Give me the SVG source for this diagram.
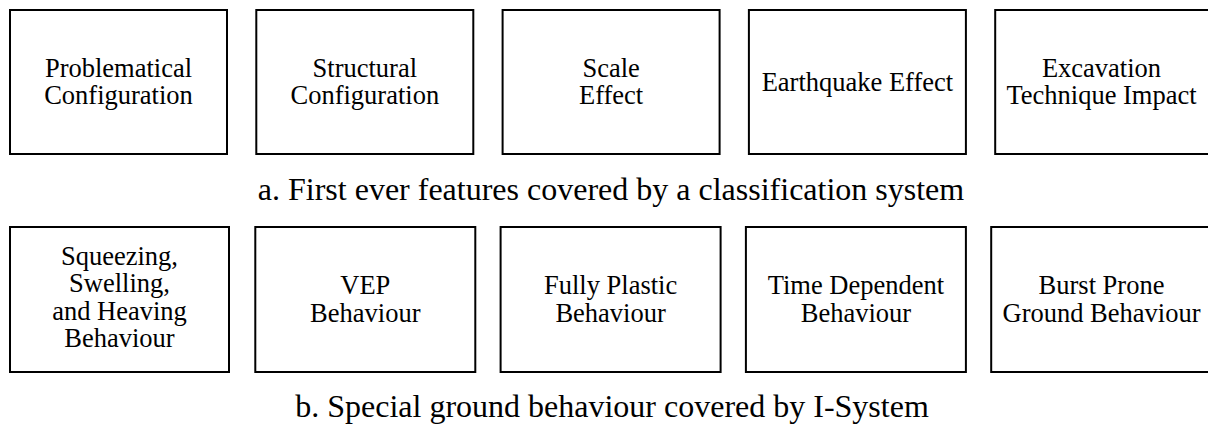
<svg xmlns="http://www.w3.org/2000/svg" width="1208" height="428" viewBox="0 0 1208 428">
<style>
  .box { fill: #ffffff; stroke: #000000; stroke-width: 2; }
  .t { font-family: "Liberation Serif", "Times New Roman", serif; font-size: 26.5px; fill: #000000; text-anchor: middle; }
  .cap { font-family: "Liberation Serif", "Times New Roman", serif; font-size: 32px; fill: #000000; text-anchor: middle; }
</style>
<rect x="0" y="0" width="1208" height="428" fill="#ffffff"/>
<g id="connectors"></g>
<g id="n1">
  <rect class="box" x="10" y="10" width="217" height="144"/>
  <text class="t" x="118.5" y="77">Problematical</text>
  <text class="t" x="118.5" y="104">Configuration</text>
</g>
<g id="n2">
  <rect class="box" x="256.3" y="10" width="217" height="144"/>
  <text class="t" x="364.8" y="77">Structural</text>
  <text class="t" x="364.8" y="104">Configuration</text>
</g>
<g id="n3">
  <rect class="box" x="502.6" y="10" width="217" height="144"/>
  <text class="t" x="611.1" y="77">Scale</text>
  <text class="t" x="611.1" y="104">Effect</text>
</g>
<g id="n4">
  <rect class="box" x="748.9" y="10" width="217" height="144"/>
  <text class="t" x="857.4" y="91">Earthquake Effect</text>
</g>
<g id="n5">
  <rect class="box" x="995.2" y="10" width="217" height="144"/>
  <text class="t" x="1101.5" y="77">Excavation</text>
  <text class="t" x="1101.5" y="104">Technique Impact</text>
</g>
<g id="capA">
  <text class="cap" x="611" y="200">a. First ever features covered by a classification system</text>
</g>
<g id="m1">
  <rect class="box" x="10" y="227" width="219" height="145"/>
  <text class="t" x="119.5" y="265">Squeezing,</text>
  <text class="t" x="119.5" y="292.3">Swelling,</text>
  <text class="t" x="119.5" y="319.6">and Heaving</text>
  <text class="t" x="119.5" y="347">Behaviour</text>
</g>
<g id="m2">
  <rect class="box" x="255.3" y="227" width="220" height="145"/>
  <text class="t" x="365.3" y="294">VEP</text>
  <text class="t" x="365.3" y="321.5">Behaviour</text>
</g>
<g id="m3">
  <rect class="box" x="500.6" y="227" width="220" height="145"/>
  <text class="t" x="610.6" y="294">Fully Plastic</text>
  <text class="t" x="610.6" y="321.5">Behaviour</text>
</g>
<g id="m4">
  <rect class="box" x="745.9" y="227" width="220" height="145"/>
  <text class="t" x="855.9" y="294">Time Dependent</text>
  <text class="t" x="855.9" y="321.5">Behaviour</text>
</g>
<g id="m5">
  <rect class="box" x="991.2" y="227" width="220" height="145"/>
  <text class="t" x="1101.5" y="294">Burst Prone</text>
  <text class="t" x="1101.5" y="321.5">Ground Behaviour</text>
</g>
<g id="capB">
  <text class="cap" x="612" y="417">b. Special ground behaviour covered by I-System</text>
</g>
</svg>
